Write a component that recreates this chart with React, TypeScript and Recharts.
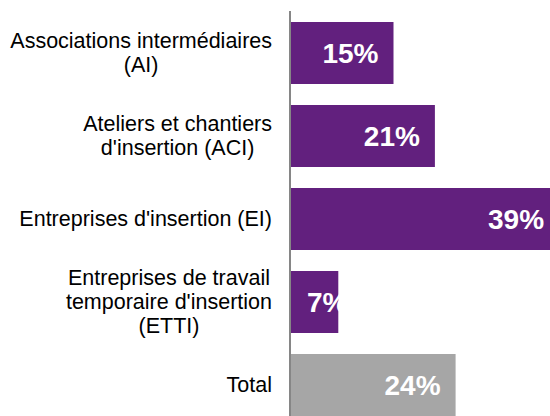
import React from 'react';
import { BarChart, Bar, XAxis, YAxis, Cell, LabelList } from 'recharts';

const categories = [
  'Associations intermédiaires (AI)',
  "Ateliers et chantiers d'insertion (ACI)",
  "Entreprises d'insertion (EI)",
  "Entreprises de travail temporaire d'insertion (ETTI)",
  'Total',
];
const categoryLines = [
  ['Associations intermédiaires', '(AI)'],
  ['Ateliers et chantiers', "d'insertion (ACI)"],
  ["Entreprises d'insertion (EI)"],
  ['Entreprises de travail', "temporaire d'insertion", '(ETTI)'],
  ['Total'],
];
const shares = [15, 21, 39, 7, 24];
const xDomain = [0, 40];

const PURPLE = '#62207E';
const GREY = '#A6A6A6';
const FONT = "'Liberation Sans', Arial, sans-serif";

const data = categories.map((c, i) => ({
  name: c,
  value: shares[i],
  total: c === 'Total',
}));

let ctx: CanvasRenderingContext2D | null = null;
function measure(text: string, font: string): number {
  if (!ctx) ctx = document.createElement('canvas').getContext('2d');
  if (!ctx) return text.length * 10;
  ctx.font = font;
  return ctx.measureText(text).width;
}

const CategoryTick = (props: any) => {
  const x = Number(props.x);
  const y = Number(props.y);
  const idx = categories.indexOf(props.payload.value);
  const lines = idx >= 0 ? categoryLines[idx] : [String(props.payload.value)];
  const fs = 21.5;
  const font = `${fs}px ${FONT}`;
  const maxW = Math.max(...lines.map((l) => measure(l, font)));
  const cx = x - maxW / 2;
  const lh = 24;
  const start = -((lines.length - 1) / 2) * lh;
  return (
    <g>
      {lines.map((l, i) => (
        <text
          key={i}
          x={cx}
          y={y + start + i * lh}
          dy={7}
          textAnchor="middle"
          fontSize={fs}
          fontFamily={FONT}
          fill="#000"
        >
          {l}
        </text>
      ))}
    </g>
  );
};

const ValueLabel = (props: any) => {
  const x = Number(props.x);
  const y = Number(props.y);
  const width = Number(props.width);
  const height = Number(props.height);
  const txt = `${props.value}%`;
  const fs = 28;
  const w = measure(txt, `bold ${fs}px ${FONT}`);
  const inside = width >= w + 30;
  const tx = inside ? x + width - 15 : x + 17;
  return (
    <text
      x={tx}
      y={y + height / 2}
      dy={fs * 0.36}
      textAnchor={inside ? 'end' : 'start'}
      fontSize={fs}
      fontWeight="bold"
      fontFamily={FONT}
      fill="#fff"
    >
      {txt}
    </text>
  );
};

export default function App() {
  return (
    <div
      style={{
        position: 'absolute',
        left: 0,
        top: 0,
        width: 550,
        height: 416,
        overflow: 'hidden',
        background: '#fff',
      }}
    >
      <div style={{ position: 'absolute', left: 8, top: 8 }}>
        <BarChart
          width={558}
          height={418}
          data={data}
          layout="vertical"
          margin={{ top: 3, right: 0, bottom: 0, left: 0 }}
          barSize={62}
        >
          <XAxis type="number" domain={xDomain} hide />
          <YAxis
            type="category"
            dataKey="name"
            width={282}
            axisLine={{ stroke: '#868686', strokeWidth: 2 }}
            tickLine={false}
            tickSize={0}
            tickMargin={18}
            interval={0}
            tick={(p: any) => <CategoryTick {...p} />}
          />
          <Bar dataKey="value" isAnimationActive={false}>
            {data.map((d) => (
              <Cell key={d.name} fill={d.total ? GREY : PURPLE} />
            ))}
            <LabelList dataKey="value" content={(p: any) => <ValueLabel {...p} />} />
          </Bar>
        </BarChart>
      </div>
    </div>
  );
}
